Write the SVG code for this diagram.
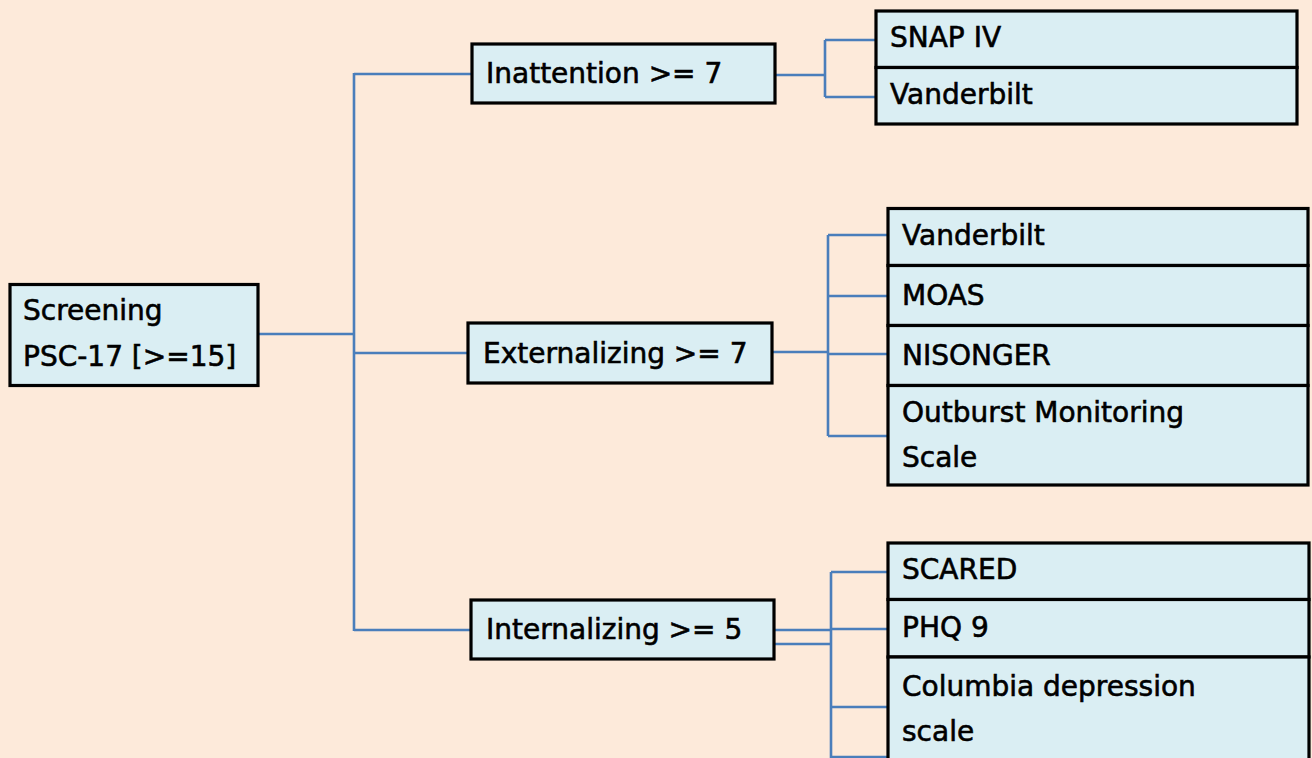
<svg xmlns="http://www.w3.org/2000/svg" width="1312" height="758" viewBox="0 0 1312 758">
  <style>
    .box { fill: #DAEEF3; stroke: #000000; stroke-width: 3.2; }
    .lbl { font-family: "DejaVu Sans", "Liberation Sans", sans-serif; font-size: 28px; fill: #000000; stroke: #000000; stroke-width: 0.6; }
    .con { fill: none; stroke: #4A7EBB; stroke-width: 2.6; }
  </style>
  <rect x="0" y="0" width="1312" height="758" fill="#FDEADA"/>

  <g id="connectors" class="con">
    <path d="M258,334 H354"/>
    <path d="M354,73 V631"/>
    <path d="M354,74 H472"/>
    <path d="M354,353 H468"/>
    <path d="M354,630 H471"/>
    <path d="M775,75 H825"/>
    <path d="M825,40 V97"/>
    <path d="M825,40 H876"/>
    <path d="M825,97 H876"/>
    <path d="M772,352 H828"/>
    <path d="M828,235 V436"/>
    <path d="M828,235 H888"/>
    <path d="M828,296 H888"/>
    <path d="M828,354 H888"/>
    <path d="M828,436 H888"/>
    <path d="M774,630 H831"/>
    <path d="M774,644 H831"/>
    <path d="M831,572 V758"/>
    <path d="M831,572 H888"/>
    <path d="M831,629 H888"/>
    <path d="M831,707 H888"/>
    <path d="M831,757 H888"/>
  </g>

  <g id="screening">
    <rect class="box" x="10" y="284.5" width="248" height="101"/>
    <text class="lbl" x="23" y="320">Screening</text>
    <text class="lbl" x="23" y="366">PSC-17 [&gt;=15]</text>
  </g>

  <g id="inattention">
    <rect class="box" x="472" y="44" width="303" height="59"/>
    <text class="lbl" x="486" y="83">Inattention &gt;= 7</text>
  </g>

  <g id="externalizing">
    <rect class="box" x="468" y="323" width="304" height="60"/>
    <text class="lbl" x="483" y="363">Externalizing &gt;= 7</text>
  </g>

  <g id="internalizing">
    <rect class="box" x="471" y="600" width="303" height="59"/>
    <text class="lbl" x="486" y="639">Internalizing &gt;= 5</text>
  </g>

  <g id="snap-iv">
    <rect class="box" x="876" y="11" width="421" height="56.5"/>
    <text class="lbl" x="890" y="47">SNAP IV</text>
  </g>
  <g id="vanderbilt-1">
    <rect class="box" x="876" y="67.5" width="421" height="56.5"/>
    <text class="lbl" x="890" y="104">Vanderbilt</text>
  </g>

  <g id="vanderbilt-2">
    <rect class="box" x="888" y="208.5" width="420" height="57"/>
    <text class="lbl" x="902" y="245">Vanderbilt</text>
  </g>
  <g id="moas">
    <rect class="box" x="888" y="265.5" width="420" height="60"/>
    <text class="lbl" x="902" y="305">MOAS</text>
  </g>
  <g id="nisonger">
    <rect class="box" x="888" y="325.5" width="420" height="60"/>
    <text class="lbl" x="902" y="365">NISONGER</text>
  </g>
  <g id="outburst">
    <rect class="box" x="888" y="385.5" width="420" height="99.5"/>
    <text class="lbl" x="902" y="422">Outburst Monitoring</text>
    <text class="lbl" x="902" y="467">Scale</text>
  </g>

  <g id="scared">
    <rect class="box" x="888" y="543" width="421" height="56.5"/>
    <text class="lbl" x="902" y="579">SCARED</text>
  </g>
  <g id="phq9">
    <rect class="box" x="888" y="599.5" width="421" height="57.5"/>
    <text class="lbl" x="902" y="637">PHQ 9</text>
  </g>
  <g id="columbia">
    <rect class="box" x="888" y="657" width="421" height="110"/>
    <text class="lbl" x="902" y="696">Columbia depression</text>
    <text class="lbl" x="902" y="741">scale</text>
  </g>
</svg>
